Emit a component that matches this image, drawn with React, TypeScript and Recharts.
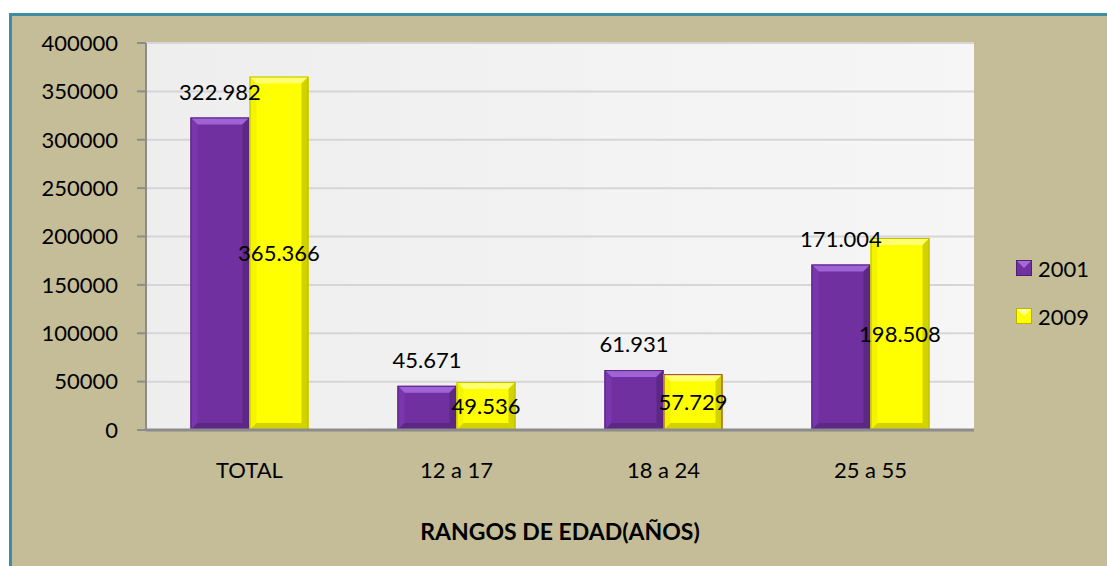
import React from 'react';
import { BarChart, Bar, XAxis, YAxis, CartesianGrid, LabelList, Legend, Cell } from 'recharts';

const categories = ['TOTAL', '12 a 17', '18 a 24', '25 a 55'];
const values2001 = [322982, 45671, 61931, 171004];
const values2009 = [365366, 49536, 57729, 198508];
const yTicks = [0, 50000, 100000, 150000, 200000, 250000, 300000, 350000, 400000];

const data = categories.map((name, i) => ({ name, y2001: values2001[i], y2009: values2009[i] }));

const FONT = 'Lato, "Open Sans", sans-serif';

const fmt = (v: any) => Number(v).toLocaleString('de-DE');

const BevelBar = (props: any) => {
  const { x, y, width, height, fill, light, side, dark, stroke } = props;
  if (!height || height <= 0) return null;
  const b = Math.min(7, width / 4, height / 3);
  const r = x + width;
  const btm = y + height;
  return (
    <g>
      <rect x={x} y={y} width={width} height={height} fill={fill} />
      <polygon points={`${x},${y} ${r},${y} ${r - b},${y + b} ${x + b},${y + b}`} fill={light} />
      <polygon points={`${x},${y} ${x + b},${y + b} ${x + b},${btm - b} ${x},${btm}`} fill={side} />
      <polygon points={`${r},${y} ${r - b},${y + b} ${r - b},${btm - b} ${r},${btm}`} fill={dark} />
      <polygon points={`${x},${btm} ${x + b},${btm - b} ${r - b},${btm - b} ${r},${btm}`} fill={dark} />
      <rect x={x + 0.5} y={y + 0.5} width={width - 1} height={height - 1} fill="none" stroke={stroke} strokeWidth={1} />
    </g>
  );
};

const LegendBox = () => (
  <div style={{ fontFamily: FONT, fontSize: 22, color: '#000' }}>
    {[
      { label: '2001', fill: '#7030A0', light: '#A46AD8', dark: '#4F1F75' },
      { label: '2009', fill: '#FFFF00', light: '#FFFF99', dark: '#B5B500' },
    ].map((it, i) => (
      <div key={it.label} style={{ display: 'flex', alignItems: 'center', height: 24, marginBottom: i === 0 ? 24 : 0 }}>
        <svg width={16} height={16} style={{ marginRight: 6 }}>
          <rect x={0} y={0} width={16} height={16} fill={it.fill} />
          <polygon points="0,0 16,0 8,8" fill={it.light} />
          <rect x={0.5} y={0.5} width={15} height={15} fill="none" stroke={it.dark} />
        </svg>
        <span>{it.label}</span>
      </div>
    ))}
  </div>
);

export default function App() {
  return (
    <div
      style={{
        position: 'absolute',
        left: 9,
        top: 13,
        width: 1098,
        height: 553,
        boxSizing: 'border-box',
        background: '#C4BD97',
        borderLeft: '3px solid #3D8EA0',
        borderTop: '3px solid #3D8EA0',
        fontFamily: FONT,
        overflow: 'hidden',
      }}
    >
      <BarChart
        width={1095}
        height={550}
        data={data}
        margin={{ top: 27, right: 133, left: 0, bottom: 0 }}
        barGap={0}
        barCategoryGap="21.5%"
      >
        <defs>
          <linearGradient id="plotBg" x1="0" y1="0" x2="1" y2="0">
            <stop offset="0%" stopColor="#EEEEEE" />
            <stop offset="100%" stopColor="#F6F6F6" />
          </linearGradient>
        </defs>
        <CartesianGrid vertical={false} stroke="#D6D6D6" strokeWidth={2} fill="url(#plotBg)" fillOpacity={1} />
        <XAxis
          dataKey="name"
          height={136}
          axisLine={{ stroke: '#8C8C8C', strokeWidth: 3 }}
          tickLine={false}
          tickSize={0}
          tickMargin={32}
          tick={{ fill: '#000', fontSize: 22, fontFamily: FONT }}
          label={{
            value: 'RANGOS DE EDAD(AÑOS)',
            position: 'insideBottom',
            offset: 26,
            fill: '#000',
            fontSize: 23,
            fontWeight: 'bold',
            fontFamily: FONT,
          }}
        />
        <YAxis
          width={134}
          domain={[0, 400000]}
          ticks={yTicks}
          interval={0}
          axisLine={{ stroke: '#8C8C8C', strokeWidth: 2 }}
          tickLine={{ stroke: '#8C8C8C', strokeWidth: 2 }}
          tickSize={9}
          tickMargin={19}
          tick={{ fill: '#000', fontSize: 22, fontFamily: FONT }}
        />
        <Legend
          layout="horizontal"
          align="center"
          verticalAlign="middle"
          wrapperStyle={{ left: 1004, top: 240, width: 90, height: 80 }}
          content={() => <LegendBox />}
        />
        <Bar
          dataKey="y2001"
          name="2001"
          fill="#7030A0"
          isAnimationActive={false}
          shape={(p: any) => (
            <BevelBar {...p} fill="#7030A0" light="#A063D6" side="#7A36AD" dark="#5C2785" stroke="#57237F" />
          )}
        >
          <LabelList dataKey="y2001" position="top" offset={18} formatter={fmt} fill="#000" fontSize={22} fontFamily={FONT} />
        </Bar>
        <Bar
          dataKey="y2009"
          name="2009"
          fill="#FFFF00"
          isAnimationActive={false}
          shape={(p: any) => (
            <BevelBar
              {...p}
              fill="#FFFF00"
              light="#FFFF70"
              side="#F4F400"
              dark="#D2D200"
              stroke={p.index === 2 ? '#953735' : '#BDBD00'}
            />
          )}
        >
          {data.map((d) => (
            <Cell key={d.name} fill="#FFFF00" />
          ))}
          <LabelList dataKey="y2009" position="center" formatter={fmt} fill="#000" fontSize={22} fontFamily={FONT} />
        </Bar>
      </BarChart>
    </div>
  );
}
